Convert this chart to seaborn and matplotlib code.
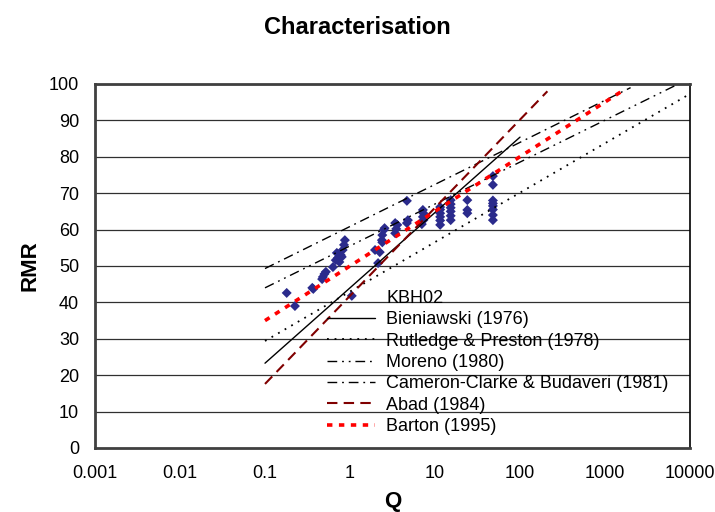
import matplotlib
matplotlib.use("Agg")
import matplotlib.pyplot as plt
import seaborn as sns
import pandas as pd
from matplotlib.lines import Line2D

# ---- data ----
kbh_q = [0.18, 0.225, 0.37, 0.36, 0.47, 0.48, 0.50, 0.52, 0.63, 0.68, 0.72, 0.75,
         0.78, 0.82, 0.85, 0.87, 0.70, 0.80, 1.05, 1.97, 2.14, 2.24, 2.37, 2.40,
         2.50, 2.55, 2.40, 3.4, 3.5, 3.6, 3.4, 4.67, 4.8, 4.67, 7.2, 7.3, 7.2, 7.3, 7.0,
         11.5, 11.5, 11.5, 11.5, 11.5, 11.5,
         15.3, 15.3, 15.3, 15.3, 15.3, 15.3,
         24, 24, 24,
         48, 48, 48, 48, 48, 48, 48, 48]
kbh_rmr = [42.6, 39.0, 43.7, 44.0, 46.4, 47.0, 47.8, 48.4, 49.7, 51.6, 52.2, 51.1,
           53.0, 54.4, 55.8, 57.1, 53.6, 52.5, 41.8, 54.4, 50.8, 53.8, 57.1, 58.5,
           59.9, 60.4, 56.5, 59.0, 60.2, 61.3, 61.8, 61.8, 62.6, 67.9, 63.5, 64.5, 65.4, 62.6, 61.5,
           61.3, 62.5, 63.5, 64.5, 65.5, 66.2,
           62.6, 63.8, 65.0, 66.0, 67.0, 68.1,
           64.5, 65.4, 68.1,
           62.6, 64.0, 65.5, 66.5, 67.2, 68.0, 72.3, 74.7]

bieniawski_q = [0.1, 100]
bieniawski_rmr = [23.3, 85.4]
rutledge_q = [0.1, 10000]
rutledge_rmr = [29.4, 97.3]
moreno_q = [0.1, 7300]
moreno_rmr = [44.0, 100.0]
cameron_q = [0.1, 2000]
cameron_rmr = [49.3, 99.0]
abad_q = [0.1, 210]
abad_rmr = [17.6, 98.0]
barton_q = [0.1, 1700]
barton_rmr = [35.0, 98.5]

x_ticks = [0.001, 0.01, 0.1, 1, 10, 100, 1000, 10000]
x_labels = ["0.001", "0.01", "0.1", "1", "10", "100", "1000", "10000"]
y_ticks = list(range(0, 101, 10))

sns.set_theme(style="white")
plt.rcParams['font.family'] = ['Liberation Sans', 'DejaVu Sans']
plt.rcParams['text.color'] = 'black'
plt.rcParams['axes.labelcolor'] = 'black'

fig = plt.figure(figsize=(7.15, 5.12), dpi=100)
ax = fig.add_axes([95/715, 1-448/512, (690-95)/715, (448-84)/512])

# gridlines
for yv in y_ticks[1:]:
    ax.axhline(yv, color='#303030', lw=0.9, zorder=0)

kbh_df = pd.DataFrame({"Q": kbh_q, "RMR": kbh_rmr})
sns.scatterplot(data=kbh_df, x="Q", y="RMR", ax=ax, marker='D', s=26,
                color='#2b2b8c', edgecolor='none', linewidth=0, zorder=2, legend=False)

line_specs = [
    ("Bieniawski (1976)", bieniawski_q, bieniawski_rmr, 'black', 1.0, '-'),
    ("Rutledge & Preston (1978)", rutledge_q, rutledge_rmr, 'black', 1.3, (0, (1, 3.2))),
    ("Moreno (1980)", moreno_q, moreno_rmr, 'black', 1.0, (0, (7, 3.5, 1.3, 3.5, 1.3, 3.5))),
    ("Cameron-Clarke & Budaveri (1981)", cameron_q, cameron_rmr, 'black', 1.0, (0, (7, 3.5, 1.3, 3.5))),
    ("Abad (1984)", abad_q, abad_rmr, '#800000', 1.5, (0, (5, 3))),
    ("Barton (1995)", barton_q, barton_rmr, '#ff0000', 2.6, (0, (1.5, 1.8))),
]
handles = [Line2D([], [], linestyle='none', marker=None)]
labels = ["KBH02"]
for name, qs, rs, col, lw, ls in line_specs:
    df = pd.DataFrame({"Q": qs, "RMR": rs})
    sns.lineplot(data=df, x="Q", y="RMR", ax=ax, color=col, lw=lw, linestyle=ls,
                 zorder=3, legend=False, estimator=None, sort=False)
    handles.append(Line2D([], [], color=col, lw=lw, linestyle=ls))
    labels.append(name)

ax.set_xscale('log')
ax.set_xlim(0.001, 10000)
ax.set_ylim(0, 100)
ax.set_xticks(x_ticks)
ax.set_xticklabels(x_labels)
ax.minorticks_off()
ax.set_yticks(y_ticks)
ax.tick_params(axis='both', which='major', direction='out', length=4.5, width=1.5,
               color='#404040', labelsize=13, labelcolor='black')
ax.tick_params(axis='y', pad=7)
ax.tick_params(axis='x', pad=8)

for side in ['left', 'bottom', 'top']:
    ax.spines[side].set_color('#404040')
    ax.spines[side].set_linewidth(2)
ax.spines['right'].set_color('black')
ax.spines['right'].set_linewidth(1.2)

ax.set_xlabel("Q", fontsize=16, fontweight='bold', labelpad=6)
ax.set_ylabel("RMR", fontsize=16, fontweight='bold', labelpad=6)

fig.text(0.5, 1-27/512, "Characterisation", ha='center', va='center',
         fontsize=17, fontweight='bold')

leg = ax.legend(handles, labels, loc='upper left', frameon=False,
                bbox_to_anchor=(327/715, 1-290/512), bbox_transform=fig.transFigure,
                fontsize=13, handlelength=2.67, handletextpad=0.6,
                labelspacing=0.24, borderaxespad=0, borderpad=0)

fig.savefig("out.png", dpi=100)
